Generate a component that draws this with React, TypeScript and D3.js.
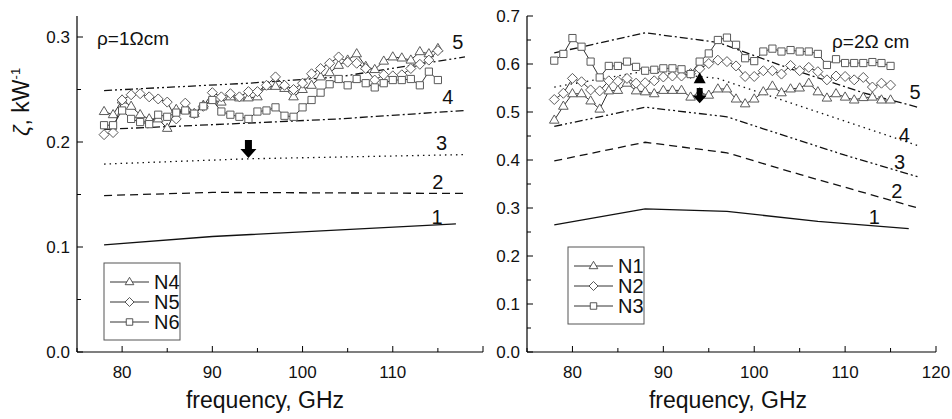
import React from 'react'
import * as d3 from 'd3'

const FONT = '"Liberation Sans", Arial, sans-serif'

// frequencies of the measured points, GHz
const freq = [78, 79, 80, 81, 82, 83, 84, 85, 86, 87, 88, 89, 90, 91, 92, 93, 94, 95, 96, 97,
  98, 99, 100, 101, 102, 103, 104, 105, 106, 107, 108, 109, 110, 111, 112, 113, 114, 115]

// rho = 1 Ohm cm
const n4 = [0.229, 0.226, 0.240, 0.234, 0.226, 0.222, 0.222, 0.213, 0.231, 0.230, 0.227, 0.235, 0.240, 0.238, 0.243, 0.242, 0.242, 0.243, 0.253, 0.253,
  0.251, 0.243, 0.250, 0.254, 0.262, 0.266, 0.273, 0.278, 0.284, 0.272, 0.269, 0.277, 0.281, 0.280, 0.278, 0.286, 0.284, 0.289]
const n5 = [0.207, 0.209, 0.240, 0.245, 0.246, 0.243, 0.241, 0.238, 0.222, 0.237, 0.227, 0.234, 0.247, 0.243, 0.246, 0.243, 0.248, 0.248, 0.254, 0.262,
  0.254, 0.250, 0.256, 0.265, 0.270, 0.275, 0.281, 0.276, 0.275, 0.270, 0.259, 0.264, 0.263, 0.264, 0.270, 0.274, 0.278, 0.287]
const n6 = [0.216, 0.216, 0.230, 0.222, 0.219, 0.217, 0.226, 0.224, 0.228, 0.230, 0.227, 0.234, 0.240, 0.229, 0.226, 0.224, 0.222, 0.229, 0.230, 0.233,
  0.225, 0.224, 0.233, 0.240, 0.247, 0.255, 0.260, 0.254, 0.260, 0.256, 0.252, 0.256, 0.259, 0.259, 0.260, 0.254, 0.267, 0.259]

// rho = 2 Ohm cm
const n1 = [0.483, 0.512, 0.538, 0.538, 0.523, 0.506, 0.544, 0.545, 0.560, 0.544, 0.542, 0.538, 0.545, 0.545, 0.545, 0.531, 0.540, 0.535, 0.548, 0.548,
  0.527, 0.517, 0.527, 0.542, 0.554, 0.540, 0.548, 0.550, 0.560, 0.542, 0.529, 0.538, 0.531, 0.525, 0.530, 0.531, 0.525, 0.525]
const n2 = [0.526, 0.539, 0.570, 0.563, 0.546, 0.544, 0.565, 0.564, 0.570, 0.560, 0.561, 0.565, 0.573, 0.575, 0.575, 0.580, 0.590, 0.601, 0.608, 0.605,
  0.596, 0.574, 0.574, 0.586, 0.586, 0.579, 0.597, 0.586, 0.593, 0.584, 0.567, 0.575, 0.574, 0.567, 0.572, 0.552, 0.560, 0.556]
const n3 = [0.607, 0.621, 0.654, 0.636, 0.605, 0.572, 0.596, 0.596, 0.605, 0.594, 0.586, 0.588, 0.591, 0.591, 0.589, 0.579, 0.605, 0.622, 0.650, 0.655,
  0.640, 0.612, 0.606, 0.626, 0.632, 0.626, 0.629, 0.626, 0.626, 0.621, 0.598, 0.610, 0.602, 0.602, 0.602, 0.604, 0.602, 0.596]

// calculated curves 1..5, left panel
const leftCurveF = [[78, 90, 117], [78, 90, 118], [78, 94, 118], [78, 94, 104, 118], [78, 94, 104, 118]]
const leftCurveV = [[0.102, 0.110, 0.122], [0.149, 0.152, 0.151], [0.179, 0.184, 0.188],
  [0.212, 0.218, 0.222, 0.230], [0.249, 0.256, 0.262, 0.281]]
const leftCurveLabel = [[114.9, 0.129], [115.0, 0.162], [115.4, 0.199], [116.1, 0.243], [117.2, 0.295]]

// calculated curves 1..5, right panel
const rightCurveF = [[78, 88, 97, 107, 117], [78, 88, 97, 105, 118], [78, 88, 97, 101, 110, 118],
  [78, 88, 96, 118], [78, 88, 96, 104, 112, 118]]
const rightCurveV = [[0.265, 0.298, 0.293, 0.272, 0.257], [0.398, 0.437, 0.415, 0.370, 0.300],
  [0.470, 0.510, 0.490, 0.465, 0.410, 0.365], [0.552, 0.585, 0.570, 0.430],
  [0.623, 0.665, 0.645, 0.590, 0.540, 0.510]]
const rightCurveLabel = [[113.2, 0.281], [115.7, 0.335], [116.0, 0.396], [116.5, 0.452], [117.7, 0.542]]

const curveNames = ['1', '2', '3', '4', '5']
const xTicks = [75, 80, 85, 90, 95, 100, 105, 110, 115, 120]

const SOLID = ''
const DASH = '8,5'
const DOT = '1.5,4'
const DASHDOT = '8,3,2,3'
const DASHDOTDOT = '8,3,2,3,2,3'

const leftDashes = [SOLID, DASH, DOT, DASHDOT, DASHDOTDOT]
const rightDashes = [SOLID, DASH, DASHDOTDOT, DOT, DASHDOT]

const TRI = 'M0,-5.2L4.8,3L-4.8,3Z'
const DIA = 'M0,-5L5,0L0,5L-5,0Z'
const SQR = 'M-3.6,-3.6h7.2v7.2h-7.2Z'

const BLOCK_DOWN = 'M-3.5,0h7v9h4.5l-8,9l-8,-9h4.5Z'

type Series = { name: string; values: number[]; marker: string }

type PanelProps = {
  x0: number; x1: number; yTop: number; yBottom: number
  yMax: number; yTicks: number[]; yLabels: number[]; xLabels: number[]
  series: Series[]
  curveF: number[][]; curveV: number[][]; curveLabel: number[][]; dashes: string[]
  rho: string; rhoX: number; rhoY: number; titleX: number
  legendX: number; legendY: number
  children?: (x: d3.ScaleLinear<number, number>, y: d3.ScaleLinear<number, number>) => React.ReactNode
}

const Panel = (p: PanelProps) => {
  const x = d3.scaleLinear().domain([75, 120]).range([p.x0, p.x1])
  const y = d3.scaleLinear().domain([0, p.yMax]).range([p.yBottom, p.yTop])
  const line = d3.line<[number, number]>().x(d => x(d[0])).y(d => y(d[1]))

  return (
    <g>
      {/* calculated curves */}
      {p.curveF.map((fs, i) => (
        <path key={'c' + i} fill="none" stroke="#111" strokeWidth={1.3}
          strokeDasharray={p.dashes[i] || undefined}
          d={line(fs.map((f, j) => [f, p.curveV[i][j]]))!} />
      ))}
      {p.curveLabel.map((l, i) => (
        <text key={'cl' + i} x={x(l[0])} y={y(l[1])} dy="0.36em" textAnchor="middle"
          fontSize={20} fill="#111">{curveNames[i]}</text>
      ))}

      {/* measured series */}
      {p.series.map(s => (
        <g key={s.name}>
          <path fill="none" stroke="#333" strokeWidth={1}
            d={line(freq.map((f, j) => [f, s.values[j]]))!} />
          {freq.map((f, j) => (
            <path key={j} d={s.marker} transform={`translate(${x(f)},${y(s.values[j])})`}
              fill="#fff" stroke="#5a5a5a" strokeWidth={1} />
          ))}
        </g>
      ))}

      {p.children && p.children(x, y)}

      {/* axes */}
      <line x1={p.x0} x2={p.x1} y1={p.yBottom} y2={p.yBottom} stroke="#000" strokeWidth={1.2} />
      <line x1={p.x0} x2={p.x0} y1={p.yBottom} y2={p.yTop} stroke="#000" strokeWidth={1.2} />
      {xTicks.map(t => (
        <line key={'xt' + t} x1={x(t)} x2={x(t)} y1={p.yBottom}
          y2={p.yBottom - (t % 10 === 0 ? 6 : 4)} stroke="#000" strokeWidth={1} />
      ))}
      {p.xLabels.map(t => (
        <text key={'xl' + t} x={x(t)} y={p.yBottom + 26} textAnchor="middle" fontSize={17}
          fill="#111">{t}</text>
      ))}
      {p.yTicks.map((t, i) => (
        <line key={'yt' + i} x1={p.x0} x2={p.x0 + (i % 2 === 0 ? 6 : 4)} y1={y(t)} y2={y(t)}
          stroke="#000" strokeWidth={1} />
      ))}
      {p.yLabels.map(t => (
        <text key={'yl' + t} x={p.x0 - 7} y={y(t)} dy="0.36em" textAnchor="end" fontSize={17}
          fill="#111">{t.toFixed(1)}</text>
      ))}
      <text x={p.titleX} y={p.yBottom + 56} textAnchor="middle" fontSize={23}
        fill="#111">frequency, GHz</text>

      <text x={p.rhoX} y={p.rhoY} fontSize={19} fill="#111">{p.rho}</text>

      {/* legend */}
      <g transform={`translate(${p.legendX},${p.legendY})`}>
        <rect x={0} y={0} width={76} height={77} fill="#fff" stroke="#555" strokeWidth={1} />
        {p.series.map((s, i) => (
          <g key={s.name} transform={`translate(0,${19 + i * 20})`}>
            <line x1={6} x2={45} y1={0} y2={0} stroke="#333" strokeWidth={1} />
            <path d={s.marker} transform="translate(25.5,0) scale(0.9)" fill="#fff" stroke="#444" strokeWidth={1} />
            <text x={50} y={0} dy="0.36em" fontSize={20} fill="#111">{s.name}</text>
          </g>
        ))}
      </g>
    </g>
  )
}

const App = () => {
  const leftY = d3.range(0, 0.3001, 0.05)
  const rightY = d3.range(0, 0.7001, 0.05)
  return (
    <svg width={952} height={419} style={{ position: 'absolute', left: 0, top: 0, background: '#fff' }}
      fontFamily={FONT}>
      <Panel x0={77} x1={483} yTop={16} yBottom={352} yMax={0.32}
        yTicks={leftY} yLabels={[0, 0.1, 0.2, 0.3]} xLabels={[80, 90, 100, 110]}
        series={[{ name: 'N4', values: n4, marker: TRI }, { name: 'N5', values: n5, marker: DIA },
          { name: 'N6', values: n6, marker: SQR }]}
        curveF={leftCurveF} curveV={leftCurveV} curveLabel={leftCurveLabel} dashes={leftDashes}
        rho="ρ=1Ωcm" rhoX={97} rhoY={45} titleX={265} legendX={104} legendY={263}>
        {(x, y) => (
          <path d={BLOCK_DOWN} transform={`translate(${x(94)},${y(0.202)})`} fill="#000" />
        )}
      </Panel>
      <Panel x0={527} x1={936} yTop={16} yBottom={352} yMax={0.7}
        yTicks={rightY} yLabels={[0, 0.1, 0.2, 0.3, 0.4, 0.5, 0.6, 0.7]} xLabels={[80, 90, 100, 110, 120]}
        series={[{ name: 'N1', values: n1, marker: TRI }, { name: 'N2', values: n2, marker: DIA },
          { name: 'N3', values: n3, marker: SQR }]}
        curveF={rightCurveF} curveV={rightCurveV} curveLabel={rightCurveLabel} dashes={rightDashes}
        rho="ρ=2Ω cm" rhoX={832} rhoY={48} titleX={728} legendX={568} legendY={247}>
        {(x, y) => (
          <g>
            <path d="M0,-11L6,0L-6,0Z" transform={`translate(${x(94)},${y(0.560)})`} fill="#000" />
            <path d={BLOCK_DOWN} transform={`translate(${x(94)},${y(0.550)}) scale(0.85)`} fill="#000" />
          </g>
        )}
      </Panel>
      <text transform="translate(29,102) rotate(-90)" textAnchor="middle" fontSize={23} fill="#111">
        <tspan fontStyle="italic">ζ</tspan>, kW<tspan fontSize={13} dy={-9}>-1</tspan>
      </text>
    </svg>
  )
}

export default App
